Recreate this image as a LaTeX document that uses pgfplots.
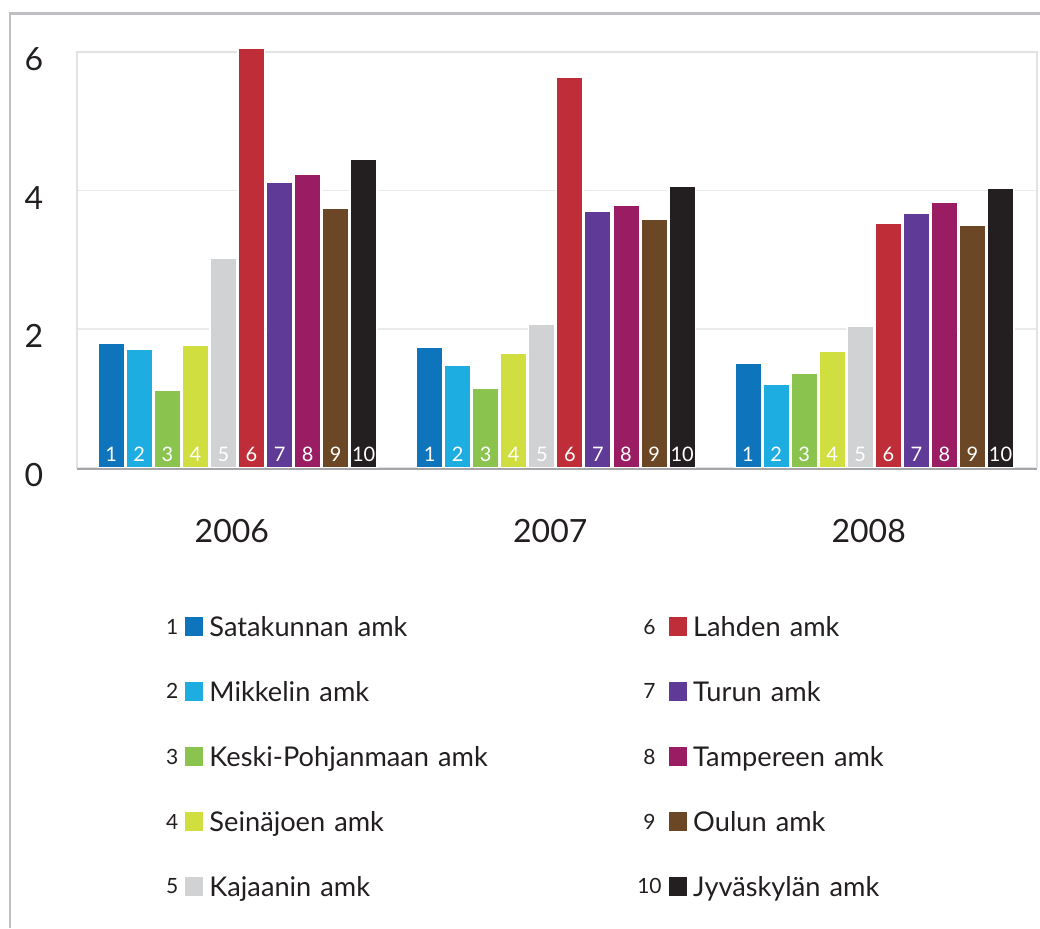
\documentclass[border=0pt]{standalone}
\usepackage{fontspec}
\setmainfont{Lato}
\usepackage{pgfplots}
\pgfplotsset{compat=1.18}

\definecolor{c1}{HTML}{0E75BC}
\definecolor{c2}{HTML}{1DADE1}
\definecolor{c3}{HTML}{8AC44F}
\definecolor{c4}{HTML}{D1DE3F}
\definecolor{c5}{HTML}{D1D2D4}
\definecolor{c6}{HTML}{BF2E38}
\definecolor{c7}{HTML}{603A97}
\definecolor{c8}{HTML}{9A1D64}
\definecolor{c9}{HTML}{6C4725}
\definecolor{c10}{HTML}{231F20}
\definecolor{ink}{HTML}{231F20}
\definecolor{framegray}{HTML}{C0C0C4}
\definecolor{boxgray}{HTML}{E2E2E2}
\definecolor{gridgray}{HTML}{EAEAEA}
\definecolor{basegray}{HTML}{A6A6AA}

% fill colour, bar shift, number, number offset in the legend
\pgfplotsset{
  amk/.style n args={4}{
    fill=#1, draw=white, line width=0.75pt, bar shift=#2,
    nodes near coords={#3},
    legend image code/.code={
      \path (-16pt,0) (11.5pt,0);
      \node[anchor=center, inner sep=0pt, text width=14pt, align=center,
            text height=7.5pt, text depth=0pt, text=ink,
            font=\fontsize{10.5}{12}\selectfont] at (#4,0) {#3};
      \fill[#1] (0pt,-4.25pt) rectangle (8.5pt,4.25pt);
    }},
}

\begin{document}
\begin{tikzpicture}
\path[use as bounding box] (0,0) rectangle (520pt,464pt);
\draw[framegray, line width=1.2pt] (5pt,0) -- (5pt,457.15pt) -- (520pt,457.15pt);
\begin{axis}[
  at={(38.65pt,230.25pt)}, anchor=south west,
  scale only axis, width=479.7pt, height=207.6pt,
  xmin=-0.503, xmax=2.51, ymin=0, ymax=6,
  ybar, bar width=13.25pt,
  clip=false,
  xtick={0,1,2}, xticklabels={2006,2007,2008},
  ytick={0,2,4,6},
  major tick length=0pt,
  ymajorgrids, grid style={gridgray, line width=0.75pt},
  axis line style={boxgray, line width=0.9pt},
  tick label style={font=\fontsize{16}{19}\selectfont, text=ink},
  /pgf/number format/assume math mode=true,
  yticklabel style={anchor=center, xshift=-21.65pt, yshift=-3.6pt},
  xticklabel style={anchor=center, yshift=-31.75pt, xshift=-2.8pt},
  visualization depends on={y \as \rawy},
  nodes near coords align={center},
  every node near coord/.append style={shift={(axis direction cs:0,-\rawy)},
    anchor=base, yshift=3.25pt, inner sep=0pt, text=white,
    font=\fontsize{10}{11}\selectfont},
  legend columns=2, legend cell align=left,
  legend style={at={(0.0789,-0.3579)}, anchor=north west, draw=none, fill=none,
    inner sep=0pt, outer sep=0pt, row sep=22.1pt,
    nodes={inner sep=0pt, text width=213pt, align=left, text height=10.4pt,
      text depth=0pt, text=ink, font=\fontsize{13.6}{16}\selectfont}},
]
\addplot[amk={c1}{-63.135pt}{1}{-6.75pt}] coordinates {(0,1.80) (1,1.74) (2,1.51)};
\addlegendentry{Satakunnan amk}
\addplot[amk={c6}{7.015pt}{6}{-10pt}] coordinates {(0,6.06) (1,5.64) (2,3.53)};
\addlegendentry{Lahden amk}
\addplot[amk={c2}{-49.105pt}{2}{-6.75pt}] coordinates {(0,1.71) (1,1.48) (2,1.21)};
\addlegendentry{Mikkelin amk}
\addplot[amk={c7}{21.045pt}{7}{-10pt}] coordinates {(0,4.12) (1,3.71) (2,3.68)};
\addlegendentry{Turun amk}
\addplot[amk={c3}{-35.075pt}{3}{-6.75pt}] coordinates {(0,1.12) (1,1.15) (2,1.36)};
\addlegendentry{Keski-Pohjanmaan amk}
\addplot[amk={c8}{35.075pt}{8}{-10pt}] coordinates {(0,4.24) (1,3.79) (2,3.83)};
\addlegendentry{Tampereen amk}
\addplot[amk={c4}{-21.045pt}{4}{-6.75pt}] coordinates {(0,1.77) (1,1.65) (2,1.68)};
\addlegendentry{Seinäjoen amk}
\addplot[amk={c9}{49.105pt}{9}{-10pt}] coordinates {(0,3.74) (1,3.59) (2,3.50)};
\addlegendentry{Oulun amk}
\addplot[amk={c5}{-7.015pt}{5}{-6.75pt}] coordinates {(0,3.02) (1,2.07) (2,2.04)};
\addlegendentry{Kajaanin amk}
\addplot[amk={c10}{63.135pt}{10}{-10pt}] coordinates {(0,4.45) (1,4.06) (2,4.03)};
\addlegendentry{Jyväskylän amk}
\draw[basegray, line width=1.25pt] ([yshift=-0.7pt]rel axis cs:0,0) -- ([yshift=-0.7pt]rel axis cs:1,0);
\end{axis}
\end{tikzpicture}
\end{document}
